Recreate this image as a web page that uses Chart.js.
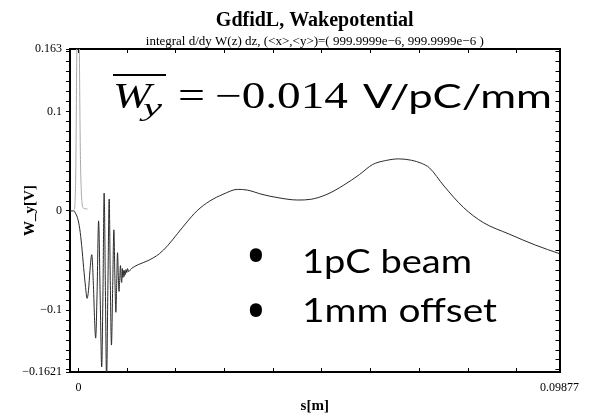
<!DOCTYPE html>
<html>
<head>
<meta charset="utf-8">
<script src="https://cdn.jsdelivr.net/npm/chart.js@4.4.1/dist/chart.umd.min.js"></script>
<style>
  html, body { margin: 0; padding: 0; background: #fff; }
  #wake { display: block; }
</style>
</head>
<body>
<canvas id="wake" width="592" height="414"></canvas>
<script>
// wake potential W_y (black)
const wakeS = [
  -0.00174, -0.00094, -0.00054, -0.00014, 0.00026, 0.00066, 0.00106, 0.00146,
  0.00176, 0.00206, 0.00236, 0.00273, 0.00307, 0.00331, 0.00353, 0.00383,
  0.00413, 0.00447, 0.00477, 0.00503, 0.00527, 0.00553, 0.00577, 0.00603,
  0.00631, 0.00653, 0.00677, 0.00703, 0.00727, 0.00747, 0.00768, 0.00784,
  0.00802, 0.00818, 0.00832, 0.00848, 0.00862, 0.00876, 0.00888, 0.00900,
  0.00912, 0.00924, 0.00936, 0.00948, 0.00962, 0.00976, 0.00992, 0.01008,
  0.01028, 0.01088, 0.01228, 0.01429, 0.01663, 0.01830, 0.02030, 0.02230,
  0.02431, 0.02697, 0.02966, 0.03267, 0.03467, 0.03768, 0.04100, 0.04501,
  0.04770, 0.05102, 0.05437, 0.05772, 0.06038, 0.06305, 0.06573, 0.06840,
  0.07040, 0.07206, 0.07507, 0.07908, 0.08309, 0.08844, 0.09379, 0.09877
];
const wakeW = [
  0, 0, -0.003, -0.008, -0.018, -0.035, -0.057, -0.077,
  -0.088, -0.080, -0.060, -0.044, -0.075, -0.110, -0.128, -0.080,
  -0.010, -0.090, -0.157, -0.080, 0.018, -0.080, -0.170, -0.080,
  0.012, -0.070, -0.135, -0.075, -0.019, -0.065, -0.102, -0.075,
  -0.042, -0.065, -0.081, -0.068, -0.055, -0.068, -0.072, -0.058,
  -0.067, -0.060, -0.066, -0.060, -0.064, -0.059, -0.062, -0.058,
  -0.061, -0.058, -0.054, -0.050, -0.043, -0.035, -0.023, -0.011,
  0, 0.010, 0.0167, 0.0217, 0.021, 0.0167, 0.0133, 0.011,
  0.0117, 0.0167, 0.0257, 0.0367, 0.0467, 0.0507, 0.0524, 0.051,
  0.048, 0.0434, 0.025, 0.0034, -0.0116, -0.0233, -0.0343, -0.043
];

// bunch charge profile (grey spike)
const chargeS = [-0.00094, -0.00074, -0.00054, -0.00034, -0.00008, 0.00018, 0.00038, 0.00058, 0.00078, 0.00096, 0.00186];
const chargeW = [0.0004, 0.006, 0.045, 0.163, 0.30, 0.163, 0.06, 0.02, 0.006, 0.003, 0.002];

// axis ticks
const sMin = -0.00174, sMax = 0.09877;
const wMin = -0.1621, wMax = 0.163;
const sTicks = [0, 0.01, 0.02, 0.03, 0.04, 0.05, 0.06, 0.07, 0.08, 0.09, 0.09877];
const sTickLabels = ['0', '', '', '', '', '', '', '', '', '', '0.09877'];
const wTicks = [
  -0.1621, -0.16, -0.15, -0.14, -0.13, -0.12, -0.11, -0.1, -0.09, -0.08, -0.07,
  -0.06, -0.05, -0.04, -0.03, -0.02, -0.01, 0, 0.01, 0.02, 0.03, 0.04, 0.05,
  0.06, 0.07, 0.08, 0.09, 0.1, 0.11, 0.12, 0.13, 0.14, 0.15, 0.16, 0.163
];
const wLabelValues = [0.163, 0.1, 0, -0.1, -0.1621];
const wLabelTexts = ['0.163', '0.1', '0', '\u22120.1', '\u22120.1621'];

const serif = "'Liberation Serif', 'Times New Roman', serif";

function sLabel(value) {
  const i = sTicks.indexOf(value);
  return i >= 0 ? sTickLabels[i] : '';
}
function wLabel(value) {
  const i = wLabelValues.indexOf(value);
  return i >= 0 ? wLabelTexts[i] : '';
}

function frameAxis(position, ticks, min, max, size, tickLength, extra) {
  const horizontal = position === 'top' || position === 'bottom';
  return Object.assign({
    type: 'linear',
    position: position,
    min: min,
    max: max,
    afterBuildTicks: (scale) => { scale.ticks = ticks.map((v) => ({ value: v })); },
    afterFit: (scale) => { if (horizontal) scale.height = size; else scale.width = size; },
    border: { display: true, color: '#000', width: 2 },
    grid: { drawOnChartArea: false, drawTicks: true, tickLength: tickLength, tickColor: '#000', tickWidth: 1 },
    ticks: { display: false, autoSkip: false }
  }, extra || {});
}

// big annotation text on top of the plot
const slideText = {
  id: 'slideText',
  afterDraw(chart) {
    const ctx = chart.ctx;
    function put(text, x, baseline, width, font, align) {
      ctx.font = font;
      const w = ctx.measureText(text).width;
      ctx.save();
      ctx.translate(x, baseline);
      if (width) ctx.scale(width / w, 1);
      ctx.textAlign = align || 'left';
      ctx.textBaseline = 'alphabetic';
      ctx.fillText(text, 0, 0);
      ctx.restore();
    }
    ctx.save();
    ctx.fillStyle = '#000';
    // mean wake W_y with overline
    ctx.fillRect(113, 74, 53, 2);
    put('W', 113, 108, 38, "italic 35px 'Liberation Serif', serif");
    put('y', 143, 116, 19, "italic 25px 'Liberation Serif', serif");
    put('=', 178, 108, 27, "37px 'Liberation Serif', serif");
    put('\u22120.014', 215, 108, 133, "37px 'Liberation Serif', serif");
    put('V/pC/mm', 363, 108, 189, "33px Lato, sans-serif");
    // bullets
    put('\u2022', 256, 277, 0, "58px 'Open Sans', sans-serif", 'center');
    put('1pC beam', 302, 273, 170, "33px Lato, sans-serif");
    put('\u2022', 256, 332, 0, "58px 'Open Sans', sans-serif", 'center');
    put('1mm offset', 302, 322, 195, "33px Lato, sans-serif");
    ctx.restore();
  }
};

const ctx = document.getElementById('wake');
new Chart(ctx, {
  type: 'line',
  data: {
    datasets: [
      {
        label: 'charge',
        data: chargeS.map((s, i) => ({ x: s, y: chargeW[i] })),
        borderColor: '#a8a8a8',
        borderWidth: 1,
        pointRadius: 0,
        cubicInterpolationMode: 'monotone'
      },
      {
        label: 'W_y',
        data: wakeS.map((s, i) => ({ x: s, y: wakeW[i] })),
        borderColor: '#2a2a2a',
        borderWidth: 1,
        pointRadius: 0,
        cubicInterpolationMode: 'monotone'
      }
    ]
  },
  options: {
    responsive: false,
    animation: false,
    layout: { padding: { top: 5.4, right: 20, bottom: 0, left: 0 } },
    plugins: {
      legend: { display: false },
      tooltip: { enabled: false },
      title: {
        display: true,
        fullSize: false,
        text: 'GdfidL, Wakepotential',
        color: '#000',
        font: { family: serif, size: 20, weight: 'bold', lineHeight: 1.2 },
        padding: { top: 3, bottom: 0 }
      },
      subtitle: {
        display: true,
        fullSize: false,
        text: 'integral d/dy W(z) dz, (<x>,<y>)=( 999.9999e\u22126, 999.9999e\u22126 )',
        color: '#000',
        font: { family: serif, size: 13, lineHeight: 1.2 },
        padding: { top: 1, bottom: 0 }
      }
    },
    scales: {
      x: frameAxis('bottom', sTicks, sMin, sMax, 42, -4, {
        ticks: { display: true, autoSkip: false, maxRotation: 0, padding: 13, color: '#000',
                 font: { family: serif, size: 12 }, callback: sLabel },
        title: { display: true, text: 's[m]', color: '#000',
                 font: { family: serif, size: 15, weight: 'bold', lineHeight: 1 },
                 padding: { top: 0, bottom: 0 } }
      }),
      y: frameAxis('left', wTicks, wMin, wMax, 70, 4, {
        ticks: { display: true, autoSkip: false, padding: 4, color: '#000',
                 font: { family: serif, size: 12 }, callback: wLabel },
        title: { display: true, text: 'W_y[V]', color: '#000',
                 font: { family: serif, size: 15, weight: 'bold', lineHeight: 1 },
                 padding: { top: 23, bottom: 0 } }
      }),
      x2: frameAxis('top', sTicks, sMin, sMax, 0, -4),
      y2: frameAxis('right', wTicks, wMin, wMax, 0, -4)
    }
  },
  plugins: [slideText]
});
</script>
</body>
</html>
